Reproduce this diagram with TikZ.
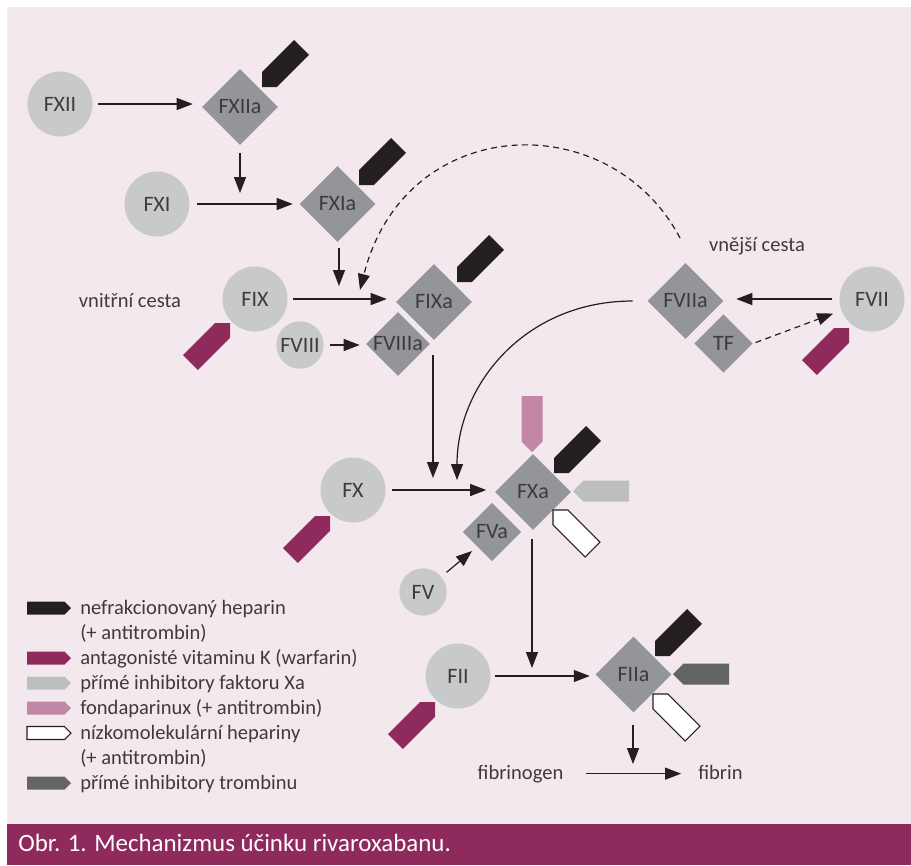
\documentclass[tikz,border=0pt]{standalone}
\usepackage{fontspec}
\setmainfont{Carlito}
\usetikzlibrary{shapes.geometric,arrows.meta,calc}
\definecolor{bgpink}{HTML}{F3E8EE}
\definecolor{maroon}{HTML}{8E2B5C}
\definecolor{cgray}{HTML}{C8C9CB}
\definecolor{dgray}{HTML}{939598}
\definecolor{blk}{HTML}{231F20}
\definecolor{lpink}{HTML}{C386A4}
\definecolor{lgray}{HTML}{BCBEC0}
\definecolor{drkgray}{HTML}{636466}
\definecolor{ink}{HTML}{3C3B3D}
\newcommand\inhib[3]{\begin{scope}[shift={#2},rotate=#3]\path[#1] (0,0) -- (-10.5,10.5) -- (-56,10.5) -- (-56,-10.5) -- (-10.5,-10.5) -- cycle;\end{scope}}
\newcommand\licon[2]{\path[#1] (27,#2-6.5) -- (64.5,#2-6.5) -- (71,#2) -- (64.5,#2+6.5) -- (27,#2+6.5) -- cycle;}
\begin{document}
\begin{tikzpicture}[x=0.75pt,y=-0.75pt,
  fac/.style={circle, fill=cgray, minimum size=48.75pt, inner sep=0pt, text=ink, font=\fontsize{16.5}{19}\selectfont},
  sfac/.style={fac, minimum size=35.5pt},
  act/.style={diamond, aspect=1, fill=dgray, minimum width=57pt, minimum height=57pt, inner sep=0pt, text=ink, font=\fontsize{16.5}{19}\selectfont},
  sact/.style={act, minimum width=44pt, minimum height=44pt},
  lbl/.style={text=ink, font=\fontsize{15.4}{18}\selectfont, inner sep=0pt},
  arr/.style={-{Triangle[length=12pt,width=9pt]}, line width=0.9pt, draw=blk},
  darr/.style={arr, dash pattern=on 4.5pt off 3.3pt},
  wfill/.style={fill=white, draw=blk, line width=0.8pt}]
\useasboundingbox (0,0) rectangle (911,865);
\fill[white] (0,0) rectangle (911,865);
\fill[bgpink] (7,7) rectangle (911,824);
\fill[maroon] (7,824) rectangle (911,865);

% factors
\node[fac] (fxii) at (60,104) {FXII};
\node[act] (fxiia) at (240,107) {FXIIa};
\node[fac] (fxi) at (157,204) {FXI};
\node[act] (fxia) at (337.5,204) {FXIa};
\node[fac] (fix) at (255,299) {FIX};
\node[act] (fixa) at (434,302) {FIXa};
\node[sfac] (fviii) at (300,345) {FVIII};
\node[sact] (fviiia) at (398,344) {FVIIIa};
\node[act] (fviia) at (685.5,301) {FVIIa};
\node[sact] (tf) at (723.5,343.5) {TF};
\node[fac] (fvii) at (872,299) {FVII};
\node[fac] (fx) at (353,490) {FX};
\node[act] (fxa) at (533,492) {FXa};
\node[sact] (fva) at (492,532) {FVa};
\node[sfac] (fv) at (423,592) {FV};
\node[fac] (fii) at (458,676) {FII};
\node[act] (fiia) at (633.5,674.5) {FIIa};

% labels
\node[lbl, anchor=base] (vnitrni) at (130,307) {vnitřní cesta};
\node[lbl, anchor=base] (vnejsi) at (757,251) {vnější cesta};
\node[lbl, anchor=base] (fbg) at (520.5,779) {fibrinogen};
\node[lbl, anchor=base] (fbn) at (720.5,779) {fibrin};

% free ends
\coordinate (e1) at (240,193);
\coordinate (e2) at (339,286);
\coordinate (d1) at (680,238);
\coordinate (d2) at (360,290);
\coordinate (c3) at (457,480);
\coordinate (c4) at (433,478);
\coordinate (c5) at (472,551);
\coordinate (c6) at (532,668);
\coordinate (c7) at (633,764);

% connectors
\draw[arr, shorten <=4.1pt, shorten >=6.75pt] (fxii.east) -- (fxii.east -| fxiia.west);
\draw[arr, shorten <=6pt] (fxiia.south) -- (e1);
\draw[arr, shorten <=5.25pt, shorten >=4.9pt] (fxi.east) -- (fxi.east -| fxia.west);
\draw[arr, shorten <=4.5pt] (fxia.south -| e2) -- (e2);
\draw[darr] (d1) .. controls (610,105) and (405,112) .. (d2);
\draw[arr, shorten <=3.75pt, shorten >=6.75pt] (fix.east) -- (fix.east -| fixa.west);
\draw[arr, shorten <=4.5pt, shorten >=4.5pt] (fviii.east) -- (fviii.east -| fviiia.west);
\draw[arr, shorten <=5.25pt, shorten >=9.4pt] (fvii.west) -- (fvii.west -| fviia.east);
\draw[darr, shorten <=2pt, shorten >=6.5pt] (tf.east) -- (fvii);
\draw[arr, shorten <=11pt] (fviia.west) .. controls (525,301) and (457,385) .. (c3);
\draw[arr, shorten <=11pt] (fixa.south -| c4) -- (c4);
\draw[arr, shorten <=4.5pt, shorten >=6.4pt] (fx.east) -- (fx.east -| fxa.west);
\draw[arr, shorten <=5pt] (fv) -- (c5);
\draw[arr, shorten <=6.4pt] (fxa.south -| c6) -- (c6);
\draw[arr, shorten <=3pt, shorten >=4.1pt] (fii.east) -- (fii.east -| fiia.west);
\draw[arr, shorten <=9.4pt] (fiia.south -| c7) -- (c7);
\draw[arr, shorten <=17pt, shorten >=12.75pt] (fbg.east) -- (fbg.east -| fbn.west);

% inhibitors
\inhib{fill=blk}{(262,87)}{225}
\inhib{fill=blk}{(359,185)}{225}
\inhib{fill=blk}{(457,282)}{225}
\inhib{fill=blk}{(554,473)}{225}
\inhib{fill=blk}{(655,656)}{225}
\inhib{fill=maroon}{(230,323)}{45}
\inhib{fill=maroon}{(849,328)}{45}
\inhib{fill=maroon}{(330,516)}{45}
\inhib{fill=maroon}{(435,702)}{45}
\inhib{fill=lpink}{(532,452)}{270}
\inhib{fill=lgray}{(573,491)}{180}
\inhib{wfill}{(553,510)}{135}
\inhib{fill=drkgray}{(673,674)}{180}
\inhib{wfill}{(653,694)}{135}

% legend
\licon{fill=blk}{608}
\licon{fill=maroon}{658}
\licon{fill=lgray}{683}
\licon{fill=lpink}{708}
\licon{wfill}{733}
\licon{fill=drkgray}{783}
\node[lbl, anchor=base west] (l1) at (80,614) {nefrakcionovaný heparin};
\node[lbl, anchor=base west] (l2) at (80,639) {(+ antitrombin)};
\node[lbl, anchor=base west] (l3) at (80,664) {antagonisté vitaminu K (warfarin)};
\node[lbl, anchor=base west] (l4) at (80,689) {přímé inhibitory faktoru Xa};
\node[lbl, anchor=base west] (l5) at (80,714) {fondaparinux (+ antitrombin)};
\node[lbl, anchor=base west] (l6) at (80,739) {nízkomolekulární hepariny};
\node[lbl, anchor=base west] (l7) at (80,764) {(+ antitrombin)};
\node[lbl, anchor=base west] (l8) at (80,789) {přímé inhibitory trombinu};

% caption
\node[font=\fontsize{18.7}{22}\selectfont, text=white, anchor=base west, inner sep=0pt] (cap) at (18,851) {Obr. 1. Mechanizmus účinku rivaroxabanu.};
\end{tikzpicture}
\end{document}
